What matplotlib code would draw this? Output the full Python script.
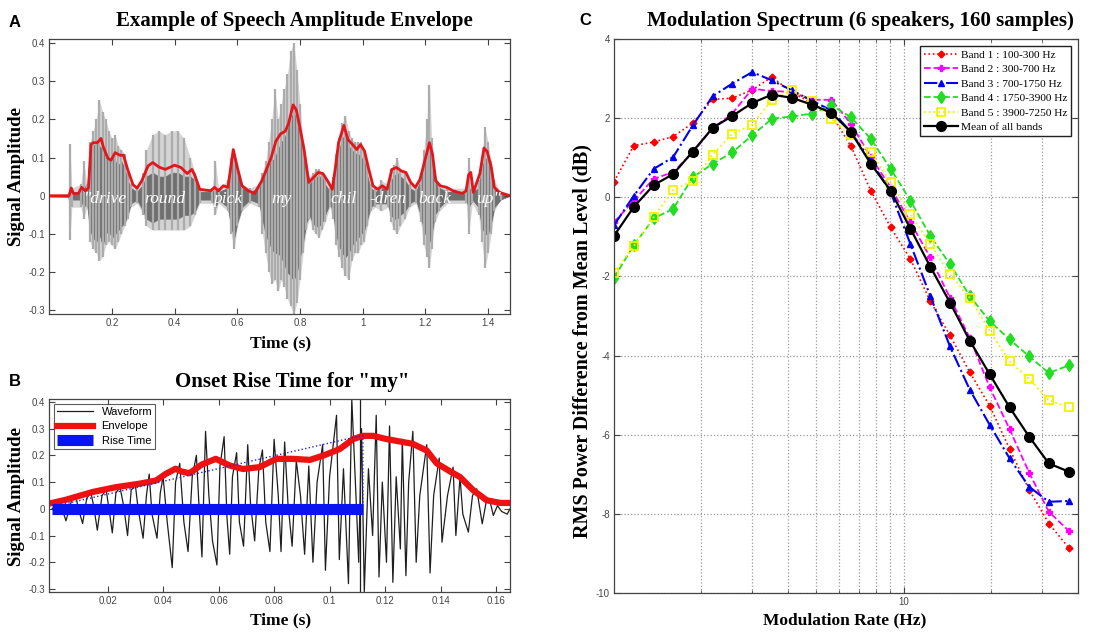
import matplotlib
matplotlib.use("Agg")
import matplotlib.pyplot as plt
from matplotlib.ticker import FixedLocator, FixedFormatter, NullFormatter

SERIF = "Liberation Serif"
SANS = "Liberation Sans"

##  Panel A : speech waveform hull (dark core / light spikes) and envelope
hull_t = [0.000, 0.060, 0.066, 0.072, 0.100, 0.110, 0.120, 0.130, 0.140, 0.150,
          0.160, 0.170, 0.180, 0.190, 0.200, 0.210, 0.220, 0.230, 0.240, 0.250,
          0.260, 0.280, 0.300, 0.310, 0.330, 0.350, 0.370, 0.390, 0.410, 0.430,
          0.450, 0.465, 0.480, 0.520, 0.530, 0.540, 0.570, 0.580, 0.590, 0.600,
          0.615, 0.640, 0.670, 0.680, 0.690, 0.700, 0.710, 0.720, 0.730, 0.740,
          0.750, 0.760, 0.770, 0.780, 0.790, 0.800, 0.810, 0.820, 0.830, 0.840,
          0.850, 0.860, 0.870, 0.880, 0.895, 0.905, 0.915, 0.925, 0.935, 0.945,
          0.955, 0.965, 0.975, 0.985, 0.995, 1.005, 1.015, 1.025, 1.040, 1.060,
          1.080, 1.090, 1.100, 1.110, 1.120, 1.135, 1.150, 1.170, 1.185, 1.195,
          1.205, 1.213, 1.220, 1.230, 1.245, 1.270, 1.330, 1.338, 1.350, 1.370,
          1.380, 1.390, 1.400, 1.410, 1.420, 1.440, 1.470]
dark_top = [0.002, 0.003, 0.015, 0.01, 0.01, 0.03, 0.01, 0.12, 0.13, 0.14,
            0.13, 0.12, 0.10, 0.09, 0.10, 0.09, 0.08, 0.09, 0.07, 0.04,
            0.02, 0.01, 0.03, 0.05, 0.06, 0.05, 0.05, 0.06, 0.06, 0.05,
            0.05, 0.04, 0.01, 0.01, 0.02, 0.01, 0.02, 0.08, 0.10, 0.06,
            0.02, 0.01, 0.02, 0.04, 0.06, 0.08, 0.09, 0.10, 0.12, 0.14,
            0.15, 0.17, 0.20, 0.22, 0.19, 0.15, 0.10, 0.05, 0.03, 0.04,
            0.05, 0.05, 0.05, 0.03, 0.01, 0.03, 0.08, 0.12, 0.15, 0.16,
            0.13, 0.12, 0.11, 0.11, 0.10, 0.09, 0.05, 0.02, 0.01, 0.02,
            0.02, 0.04, 0.05, 0.06, 0.05, 0.04, 0.02, 0.01, 0.04, 0.08,
            0.11, 0.12, 0.09, 0.04, 0.02, 0.01, 0.01, 0.02, 0.01, 0.02,
            0.07, 0.10, 0.09, 0.06, 0.02, 0.01, 0.0]
dark_bot = [-0.002, -0.003, -0.02, -0.01, -0.01, -0.03, -0.015, -0.09, -0.11, -0.12,
            -0.10, -0.13, -0.10, -0.09, -0.11, -0.10, -0.09, -0.08, -0.07, -0.05,
            -0.02, -0.01, -0.04, -0.06, -0.07, -0.06, -0.06, -0.06, -0.06, -0.05,
            -0.05, -0.04, -0.01, -0.01, -0.03, -0.01, -0.03, -0.08, -0.11, -0.07,
            -0.03, -0.01, -0.02, -0.06, -0.10, -0.12, -0.14, -0.15, -0.15, -0.16,
            -0.18, -0.20, -0.21, -0.22, -0.20, -0.16, -0.12, -0.07, -0.05, -0.07,
            -0.08, -0.08, -0.07, -0.05, -0.02, -0.04, -0.10, -0.13, -0.15, -0.16,
            -0.15, -0.13, -0.12, -0.11, -0.10, -0.09, -0.06, -0.03, -0.02, -0.02,
            -0.02, -0.05, -0.06, -0.06, -0.05, -0.04, -0.02, -0.01, -0.05, -0.09,
            -0.11, -0.12, -0.10, -0.05, -0.03, -0.01, -0.01, -0.03, -0.01, -0.03,
            -0.08, -0.10, -0.10, -0.07, -0.03, -0.01, 0.0]
light_top = [0.002, 0.003, 0.135, 0.02, 0.03, 0.09, 0.03, 0.14, 0.17, 0.20,
             0.25, 0.22, 0.20, 0.17, 0.15, 0.16, 0.13, 0.12, 0.11, 0.06,
             0.03, 0.02, 0.06, 0.12, 0.16, 0.17, 0.16, 0.17, 0.17, 0.15,
             0.10, 0.06, 0.02, 0.02, 0.09, 0.02, 0.04, 0.10, 0.12, 0.08,
             0.03, 0.02, 0.03, 0.06, 0.09, 0.14, 0.20, 0.28, 0.20, 0.24,
             0.28, 0.32, 0.38, 0.40, 0.33, 0.24, 0.14, 0.08, 0.05, 0.06,
             0.07, 0.07, 0.06, 0.05, 0.02, 0.05, 0.11, 0.15, 0.19, 0.21,
             0.17, 0.15, 0.14, 0.14, 0.14, 0.12, 0.08, 0.03, 0.02, 0.04,
             0.03, 0.07, 0.08, 0.10, 0.07, 0.06, 0.03, 0.02, 0.06, 0.12,
             0.20, 0.29, 0.15, 0.06, 0.03, 0.02, 0.02, 0.10, 0.02, 0.04,
             0.10, 0.18, 0.14, 0.09, 0.04, 0.01, 0.0]
light_bot = [-0.002, -0.003, -0.115, -0.03, -0.03, -0.06, -0.03, -0.12, -0.14, -0.15,
             -0.17, -0.16, -0.13, -0.12, -0.13, -0.14, -0.12, -0.10, -0.08, -0.06,
             -0.03, -0.02, -0.05, -0.08, -0.09, -0.09, -0.09, -0.09, -0.09, -0.09,
             -0.08, -0.05, -0.02, -0.02, -0.05, -0.02, -0.04, -0.10, -0.14, -0.08,
             -0.04, -0.02, -0.03, -0.10, -0.15, -0.20, -0.23, -0.22, -0.25, -0.22,
             -0.24, -0.27, -0.29, -0.31, -0.28, -0.22, -0.15, -0.09, -0.06, -0.09,
             -0.10, -0.11, -0.09, -0.07, -0.03, -0.06, -0.13, -0.16, -0.19, -0.21,
             -0.22, -0.17, -0.15, -0.15, -0.13, -0.12, -0.08, -0.04, -0.03, -0.04,
             -0.03, -0.07, -0.09, -0.10, -0.08, -0.06, -0.03, -0.02, -0.07, -0.13,
             -0.16, -0.19, -0.14, -0.07, -0.04, -0.02, -0.02, -0.10, -0.02, -0.05,
             -0.12, -0.19, -0.15, -0.10, -0.04, -0.01, 0.0]

envA_t = [0.000, 0.063, 0.070, 0.077, 0.093, 0.103, 0.115, 0.125, 0.133, 0.140,
          0.153, 0.165, 0.173, 0.187, 0.197, 0.210, 0.225, 0.237, 0.250, 0.267,
          0.280, 0.295, 0.315, 0.330, 0.350, 0.370, 0.400, 0.420, 0.440, 0.455,
          0.465, 0.480, 0.495, 0.515, 0.527, 0.540, 0.555, 0.570, 0.587, 0.600,
          0.615, 0.635, 0.655, 0.678, 0.693, 0.708, 0.723, 0.738, 0.753, 0.763,
          0.778, 0.788, 0.798, 0.813, 0.828, 0.843, 0.858, 0.873, 0.888, 0.903,
          0.913, 0.923, 0.940, 0.953, 0.968, 0.981, 0.993, 1.006, 1.018, 1.033,
          1.048, 1.063, 1.078, 1.093, 1.108, 1.123, 1.138, 1.153, 1.168, 1.183,
          1.198, 1.213, 1.223, 1.233, 1.248, 1.268, 1.288, 1.318, 1.330, 1.338,
          1.345, 1.353, 1.374, 1.387, 1.397, 1.410, 1.420, 1.436, 1.470]
envA_v = [0.000, 0.000, 0.020, 0.006, 0.006, 0.022, 0.013, 0.020, 0.134, 0.139,
          0.139, 0.150, 0.126, 0.098, 0.093, 0.113, 0.106, 0.106, 0.069, 0.029,
          0.020, 0.039, 0.078, 0.087, 0.075, 0.069, 0.080, 0.074, 0.058, 0.069,
          0.052, 0.017, 0.015, 0.013, 0.022, 0.013, 0.026, 0.022, 0.121, 0.074,
          0.026, 0.013, 0.006, 0.039, 0.069, 0.100, 0.143, 0.162, 0.169, 0.188,
          0.238, 0.225, 0.186, 0.121, 0.035, 0.048, 0.061, 0.058, 0.039, 0.017,
          0.074, 0.139, 0.184, 0.147, 0.134, 0.121, 0.134, 0.117, 0.074, 0.026,
          0.017, 0.026, 0.017, 0.069, 0.074, 0.065, 0.061, 0.035, 0.022, 0.043,
          0.091, 0.139, 0.108, 0.039, 0.026, 0.022, 0.013, 0.006, 0.013, 0.055,
          0.061, 0.009, 0.058, 0.125, 0.116, 0.076, 0.022, 0.009, 0.000]

words = ['"drive', 'round', 'pick', 'my', 'chil', '-dren', 'back', 'up"']
word_t = [0.18, 0.37, 0.57, 0.74, 0.94, 1.08, 1.23, 1.40]

##  Panel B : onset of "my"
waveB_t = [0.000, 0.003, 0.005, 0.007, 0.0085, 0.0095, 0.011, 0.0125, 0.014, 0.015,
           0.0163, 0.018, 0.0195, 0.0205, 0.0217, 0.023, 0.0245, 0.0258, 0.0272, 0.0285,
           0.030, 0.031, 0.0328, 0.034, 0.035, 0.036, 0.0378, 0.039, 0.040, 0.0415,
           0.0433, 0.0445, 0.046, 0.0475, 0.049, 0.0505, 0.052, 0.053, 0.054, 0.0553,
           0.0565, 0.0578, 0.0594, 0.0605, 0.062, 0.063, 0.064, 0.065, 0.0665, 0.0675,
           0.069, 0.0705, 0.0715, 0.073, 0.0745, 0.0758, 0.077, 0.0785, 0.080, 0.0815,
           0.0825, 0.0838, 0.085, 0.0865, 0.088, 0.0895, 0.091, 0.0925, 0.094, 0.0955,
           0.0975, 0.0985, 0.100, 0.1025, 0.1035, 0.105, 0.1068, 0.108, 0.1095, 0.1105,
           0.1115, 0.1125, 0.114, 0.1155, 0.1168, 0.1178, 0.119, 0.1205, 0.1216, 0.1228,
           0.124, 0.1255, 0.1262, 0.1275, 0.1285, 0.130, 0.1312, 0.1325, 0.135, 0.1362,
           0.1375, 0.1395, 0.1405, 0.1425, 0.1445, 0.1455, 0.147, 0.148, 0.150, 0.1515,
           0.153, 0.155, 0.1565, 0.158, 0.159, 0.1605, 0.162, 0.164, 0.165]
waveB_v = [0.00, 0.02, -0.045, 0.03, 0.05, 0.00, -0.055, 0.04, 0.06, 0.01,
           -0.08, 0.05, 0.07, 0.00, -0.09, 0.06, 0.08, 0.01, -0.10, 0.07,
           0.09, 0.00, -0.11, 0.05, 0.13, -0.02, -0.11, 0.06, 0.12, -0.05,
           -0.22, 0.10, 0.17, -0.05, -0.16, 0.12, 0.20, 0.00, -0.18, 0.29,
           0.05, -0.12, -0.21, 0.16, 0.27, -0.03, -0.17, 0.12, 0.21, -0.05,
           -0.14, 0.24, 0.02, -0.12, 0.15, 0.22, -0.05, -0.16, 0.26, 0.05,
           -0.16, 0.25, 0.02, -0.14, 0.18, 0.05, -0.17, 0.16, -0.20, 0.10,
           0.24, -0.23, 0.12, 0.35, -0.19, 0.15, -0.28, 0.41, 0.05, -0.20,
           0.30, -0.31, 0.15, -0.10, 0.35, -0.255, 0.10, -0.20, 0.31, -0.275,
           0.12, -0.15, 0.26, -0.25, 0.10, 0.29, -0.20, 0.05, 0.24, -0.24,
           0.05, 0.19, -0.125, 0.05, 0.156, -0.10, 0.12, -0.02, -0.087, 0.05,
           0.075, -0.056, 0.03, 0.02, -0.025, 0.012, -0.01, -0.02, 0.00]
mark_t = 0.1108

envB_t = [0.000, 0.005, 0.0146, 0.023, 0.0315, 0.0375, 0.041, 0.0445, 0.0465, 0.0495,
          0.054, 0.059, 0.064, 0.0688, 0.0748, 0.0808, 0.0868, 0.0929, 0.0977, 0.1037,
          0.1085, 0.112, 0.1157, 0.1205, 0.1253, 0.130, 0.135, 0.1386, 0.1434, 0.147,
          0.1518, 0.1566, 0.1615, 0.165]
envB_v = [0.022, 0.034, 0.063, 0.081, 0.094, 0.106, 0.131, 0.150, 0.140, 0.133,
          0.166, 0.187, 0.162, 0.149, 0.156, 0.187, 0.187, 0.183, 0.199, 0.224,
          0.261, 0.273, 0.273, 0.261, 0.252, 0.243, 0.218, 0.170, 0.140, 0.119,
          0.069, 0.032, 0.022, 0.022]

rise_t = [0.002, 0.112, 0.112]
rise_v = [0.012, 0.275, 0.0]
rise_bar_t = [0.0, 0.112]

##  Panel C : modulation spectrum
rate = [1.00, 1.17, 1.37, 1.60, 1.87, 2.19, 2.56, 3.00, 3.51, 4.11,
        4.81, 5.63, 6.58, 7.70, 9.02, 10.55, 12.35, 14.45, 16.9, 19.8,
        23.2, 27.1, 31.7, 37.2]
band1 = [0.40, 1.31, 1.40, 1.54, 1.88, 2.48, 2.51, 2.72, 3.05, 2.65,
         2.40, 2.10, 1.29, 0.17, -0.76, -1.56, -2.62, -3.49, -4.42, -5.27,
         -6.36, -7.39, -8.25, -8.87]
band2 = [-0.63, -0.08, 0.47, 0.64, 1.14, 1.75, 2.12, 2.75, 2.69, 2.67,
         2.47, 2.47, 1.86, 1.02, 0.25, -0.63, -1.52, -2.54, -3.55, -4.80,
         -5.86, -6.96, -7.95, -8.44]
band3 = [-0.70, 0.04, 0.72, 1.02, 1.82, 2.56, 2.88, 3.17, 2.96, 2.71,
         2.45, 2.20, 1.65, 0.93, 0.13, -1.18, -2.49, -3.77, -4.86, -5.75,
         -6.60, -7.32, -7.70, -7.68]
band4 = [-2.03, -1.21, -0.53, -0.29, 0.51, 0.85, 1.14, 1.57, 1.99, 2.05,
         2.12, 2.33, 2.03, 1.48, 0.72, -0.08, -0.97, -1.69, -2.49, -3.13,
         -3.59, -4.02, -4.44, -4.25]
band5 = [-1.90, -1.23, -0.50, 0.19, 0.42, 1.08, 1.61, 1.84, 2.47, 2.71,
         2.45, 1.99, 1.57, 1.14, 0.38, -0.42, -1.18, -1.95, -2.54, -3.37,
         -4.15, -4.59, -5.13, -5.31]
band_mean = [-0.97, -0.24, 0.31, 0.59, 1.16, 1.76, 2.06, 2.39, 2.60, 2.52,
             2.35, 2.14, 1.65, 0.85, 0.17, -0.79, -1.75, -2.66, -3.62, -4.47,
             -5.31, -6.05, -6.73, -6.94]
band_labels = ["Band 1 : 100-300 Hz", "Band 2 : 300-700 Hz", "Band 3 : 700-1750 Hz",
               "Band 4 : 1750-3900 Hz", "Band 5 : 3900-7250 Hz", "Mean of all bands"]


def matlab_axes(ax):
    for s in ax.spines.values():
        s.set_color("#444444")
        s.set_linewidth(0.9)
    ax.tick_params(direction="in", top=True, right=True, length=4,
                   width=0.8, colors="#444444", labelsize=7, pad=3)
    for lab in ax.get_xticklabels() + ax.get_yticklabels():
        lab.set_fontfamily(SANS)


fig = plt.figure(figsize=(11.13, 6.32), dpi=100)

##  A
axA = fig.add_axes([0.0443, 0.503, 0.4139, 0.435])
axA.fill_between(hull_t, light_bot, light_top, color="#d4d4d4", lw=0)
axA.vlines(hull_t, light_bot, light_top, color="#acacac", lw=1.6)
axA.fill_between(hull_t, dark_bot, dark_top, color="#6f6f6f", lw=0.6)
axA.plot(envA_t, envA_v, color="#e3161b", lw=2.0)
for w, t in zip(words, word_t):
    axA.text(t, -0.008, w, color="white", fontsize=12.5, style="italic",
             family=SERIF, ha="center", va="center")
axA.set_xlim(0, 1.47)
axA.set_ylim(-0.31, 0.41)
axA.xaxis.set_major_locator(FixedLocator([0.2, 0.4, 0.6, 0.8, 1.0, 1.2, 1.4]))
axA.xaxis.set_major_formatter(FixedFormatter(["0.2", "0.4", "0.6", "0.8", "1", "1.2", "1.4"]))
axA.yaxis.set_major_locator(FixedLocator([-0.3, -0.2, -0.1, 0, 0.1, 0.2, 0.3, 0.4]))
axA.yaxis.set_major_formatter(FixedFormatter(["-0.3", "-0.2", "-0.1", "0", "0.1", "0.2", "0.3", "0.4"]))
matlab_axes(axA)

##  B
axB = fig.add_axes([0.0443, 0.0638, 0.4139, 0.3045])
axB.plot(waveB_t, waveB_v, color="#1e1e1e", lw=0.9, label="Waveform")
axB.vlines(mark_t, -0.31, 0.41, color="#1e1e1e", lw=0.9)
axB.plot(envB_t, envB_v, color="#ee1111", lw=4.5, label="Envelope")
axB.plot(rise_t, rise_v, color="#2222dd", lw=1.0, ls=":")
axB.plot(rise_bar_t, [0, 0], color="#0a14f0", lw=8, solid_capstyle="butt", label="Rise Time")
axB.set_xlim(-0.001, 0.165)
axB.set_ylim(-0.31, 0.41)
axB.xaxis.set_major_locator(FixedLocator([0.02, 0.04, 0.06, 0.08, 0.1, 0.12, 0.14, 0.16]))
axB.xaxis.set_major_formatter(FixedFormatter(["0.02", "0.04", "0.06", "0.08", "0.1", "0.12", "0.14", "0.16"]))
axB.yaxis.set_major_locator(FixedLocator([-0.3, -0.2, -0.1, 0, 0.1, 0.2, 0.3, 0.4]))
axB.yaxis.set_major_formatter(FixedFormatter(["-0.3", "-0.2", "-0.1", "0", "0.1", "0.2", "0.3", "0.4"]))
legB = axB.legend(loc="upper left", prop={"family": SANS, "size": 8}, frameon=True,
                  fancybox=False, edgecolor="#333333", borderpad=0.3, handlelength=3.2,
                  labelspacing=0.4, borderaxespad=0.4)
legB.get_frame().set_linewidth(0.8)
matlab_axes(axB)

##  C
axC = fig.add_axes([0.5517, 0.0622, 0.4169, 0.8756])
axC.set_xscale("log")
axC.plot(rate, band1, color="#ff0000", ls=":", lw=1.2, marker="D", ms=3.5, label=band_labels[0])
axC.plot(rate, band2, color="#ff00ff", ls="--", lw=1.3, marker="P", ms=5, label=band_labels[1])
axC.plot(rate, band3, color="#0000ee", ls="-.", lw=1.5, marker="^", ms=4, label=band_labels[2])
axC.plot(rate, band4, color="#22dd22", ls="--", lw=1.3, marker="d", ms=6, label=band_labels[3])
axC.plot(rate, band5, color="#f2f200", ls=":", lw=1.3, marker="s", ms=6, mfc="none", mew=1.3, label=band_labels[4])
axC.plot(rate, band_mean, color="black", ls="-", lw=1.6, marker="o", ms=7, label=band_labels[5])
axC.set_xlim(1, 40)
axC.set_ylim(-10, 4)
axC.xaxis.set_major_locator(FixedLocator([10]))
axC.xaxis.set_major_formatter(FixedFormatter(["10"]))
axC.xaxis.set_minor_locator(FixedLocator([2, 3, 4, 5, 6, 7, 8, 9, 20, 30]))
axC.xaxis.set_minor_formatter(NullFormatter())
axC.yaxis.set_major_locator(FixedLocator([-10, -8, -6, -4, -2, 0, 2, 4]))
axC.yaxis.set_major_formatter(FixedFormatter(["-10", "-8", "-6", "-4", "-2", "0", "2", "4"]))
axC.grid(True, which="both", ls=":", color="#9a9a9a", lw=0.9)
axC.tick_params(which="minor", direction="in", top=True, length=2, color="#444444")
legC = axC.legend(loc="upper right", prop={"family": SERIF, "size": 8.2}, frameon=True,
                  fancybox=False, edgecolor="#222222", borderpad=0.3, handlelength=3.0,
                  handletextpad=0.3, labelspacing=0.4, borderaxespad=0.6, framealpha=1)
legC.get_frame().set_linewidth(1.0)
matlab_axes(axC)

##  Titles, labels, panel letters
fig.text(0.2646, 0.967, "Example of Speech Amplitude Envelope", family=SERIF,
         weight="bold", size=15, ha="center", va="center")
fig.text(0.2624, 0.396, 'Onset Rise Time for "my"', family=SERIF,
         weight="bold", size=15, ha="center", va="center")
fig.text(0.7727, 0.967, "Modulation Spectrum (6 speakers, 160 samples)", family=SERIF,
         weight="bold", size=15, ha="center", va="center")
fig.text(0.252, 0.457, "Time (s)", family=SERIF, weight="bold", size=12.5, ha="center", va="center")
fig.text(0.252, 0.019, "Time (s)", family=SERIF, weight="bold", size=12.5, ha="center", va="center")
fig.text(0.759, 0.019, "Modulation Rate (Hz)", family=SERIF, weight="bold", size=12.5, ha="center", va="center")
fig.text(0.015, 0.72, "Signal Amplitude", family=SERIF, weight="bold", size=13.5,
         rotation=90, ha="center", va="center")
fig.text(0.015, 0.215, "Signal Amplitude", family=SERIF, weight="bold", size=13.5,
         rotation=90, ha="center", va="center")
fig.text(0.523, 0.46, "RMS Power Difference from Mean Level (dB)", family=SERIF,
         weight="bold", size=14.5, rotation=90, ha="center", va="center")
fig.text(0.013, 0.965, "A", family=SANS, weight="bold", size=12, ha="center", va="center")
fig.text(0.013, 0.396, "B", family=SANS, weight="bold", size=12, ha="center", va="center")
fig.text(0.526, 0.968, "C", family=SANS, weight="bold", size=12, ha="center", va="center")

plt.savefig("out.png", dpi=100)
plt.close()
